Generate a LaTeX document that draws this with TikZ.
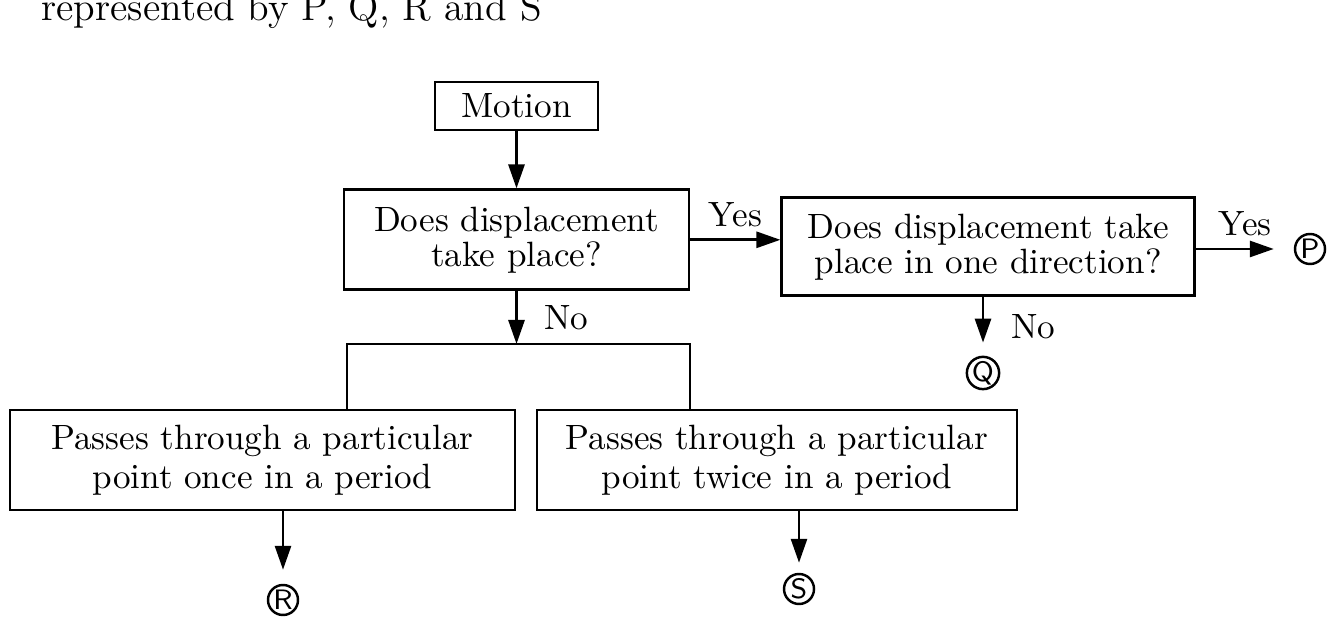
\documentclass[tikz,border=0pt]{standalone}
\usetikzlibrary{positioning,arrows.meta}

\begin{document}
\begin{tikzpicture}[>={Triangle[length=2.4mm,width=1.6mm]}, line width=0.8pt,
    box/.style={draw, align=center, inner sep=0pt, minimum height=1cm},
    letter/.style={circle, draw, line width=0.7pt, inner sep=0pt, minimum size=0.3cm, font=\sffamily\footnotesize}]
   \useasboundingbox (0,0) rectangle (13.4,-6.19);
   \node[anchor=base west, inner sep=0pt, font=\fontsize{11.3}{13}\selectfont] (title) at (0.40,-0.21) {represented by P, Q, R and S};

   \node[box, minimum width=1.63cm, minimum height=0.48cm] (motion) at (5.165,-1.06) {Motion};
   \node[box, minimum width=3.45cm] (disp) [below=0.57cm of motion] {Does displacement\\[-2pt] take place?};
   \node[box, minimum width=4.13cm, minimum height=0.98cm] (dir) [right=0.9cm of disp, yshift=-0.07cm] {Does displacement take\\[-2pt] place in one direction?};
   \node[box, minimum width=5.05cm] (once) at (2.625,-4.60) {Passes through a particular\\[-1pt] point once in a period};
   \node[box, minimum width=4.80cm] (twice) at (7.77,-4.60) {Passes through a particular\\[-1pt] point twice in a period};

   \node[letter] (p) at (13.10,-2.49) {P};
   \node[letter] (q) at (9.83,-3.73) {Q};
   \node[letter] (r) at (2.83,-6.00) {R};
   \node[letter] (s) at (7.99,-5.89) {S};

   \coordinate (split) at (5.165,-3.44);
   \coordinate (lft) at (3.47,-3.44);
   \coordinate (rgt) at (6.90,-3.44);

    \path[->]
    (motion) edge (disp)
    (disp)   edge node[above] {Yes} (disp.east -| dir.west)
             edge node[right=1.5mm] {No} (split)
    (dir.east |- p) edge [shorten >=2mm] node[above] {Yes} (p)
    (q |- dir.south) edge [shorten >=1.3mm] node[right=1.5mm] {No} (q)
    (r |- once.south) edge [shorten >=1.4mm] (r)
    (s |- twice.south) edge [shorten >=1mm] (s);
   \draw (lft |- once.north) -- (lft) -- (rgt) -- (rgt |- twice.north);

\end{tikzpicture}
\end{document}
